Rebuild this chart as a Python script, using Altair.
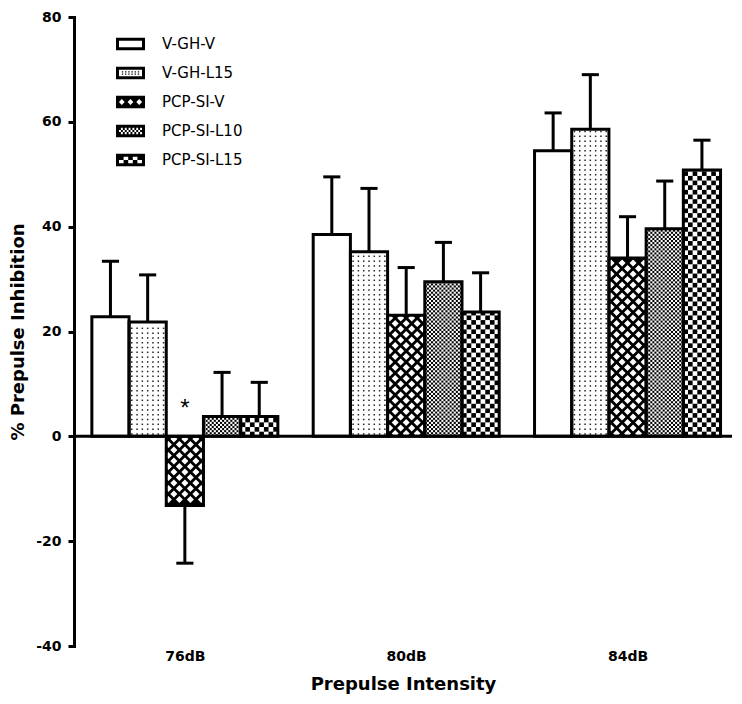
import altair as alt
import pandas as pd

# ---------------- data ----------------
groups = ["76dB", "80dB", "84dB"]
series = ["V-GH-V", "V-GH-L15", "PCP-SI-V", "PCP-SI-L10", "PCP-SI-L15"]

mean_v_gh_v = [22.8, 38.5, 54.5]
mean_v_gh_l15 = [21.8, 35.2, 58.6]
mean_pcp_si_v = [-13.2, 23.1, 34.0]
mean_pcp_si_l10 = [3.8, 29.5, 39.6]
mean_pcp_si_l15 = [3.8, 23.7, 50.8]

sem_v_gh_v = [10.6, 11.0, 7.2]
sem_v_gh_l15 = [9.0, 12.1, 10.4]
sem_pcp_si_v = [11.0, 9.1, 7.9]
sem_pcp_si_l10 = [8.4, 7.5, 9.1]
sem_pcp_si_l15 = [6.5, 7.5, 5.7]

# significance marks (group, series, label)
sig_marks = [("76dB", "PCP-SI-V", "*")]

means = [mean_v_gh_v, mean_v_gh_l15, mean_pcp_si_v, mean_pcp_si_l10, mean_pcp_si_l15]
sems = [sem_v_gh_v, sem_v_gh_l15, sem_pcp_si_v, sem_pcp_si_l10, sem_pcp_si_l15]

rows = []
for gi, g in enumerate(groups):
    for si, s in enumerate(series):
        lab = ""
        for (sg, ss, sl) in sig_marks:
            if sg == g and ss == s:
                lab = sl
        rows.append({"group": g, "series": s, "gi": gi, "si": si,
                     "mean": means[si][gi], "sem": sems[si][gi], "sig": lab})
df = pd.DataFrame(rows)

# ---------------- layout / style constants ----------------
PLOT_W, PLOT_H = 658, 629
BAR_PX = 37.2                 # one bar width in pixels -> x unit = one bar
XMAX = PLOT_W / BAR_PX
OUTER = 0.48                  # space before first group (bar units)
STEP = 5.95                   # group step (5 bars + gap)
PX_PER_UNIT_Y = PLOT_H / 120.0

fill_colors = ["white", "white", "black", "white", "white"]
fill_expr = "[" + ",".join("'%s'" % c for c in fill_colors) + "][datum.si]"

xscale = alt.Scale(domain=[0, XMAX], nice=False, zero=False)
yscale = alt.Scale(domain=[-40, 80], nice=False, zero=False)

centers = [OUTER + i * STEP + 2.5 for i in range(len(groups))]
label_list = "[" + ",".join("'%s'" % g for g in groups) + "]"
xaxis = alt.Axis(values=centers,
                 labelExpr=f"{label_list}[round((datum.value - {centers[0]})/{STEP})]",
                 title="Prepulse Intensity", domain=False, ticks=False, tickSize=0,
                 labelPadding=3, labelFont="DejaVu Sans", labelFontSize=14,
                 labelFontWeight="bold", labelColor="black", labelFlush=False,
                 labelOverlap=False, titleFont="DejaVu Sans", titleFontSize=18,
                 titleFontWeight="bold", titleColor="black", titlePadding=12, grid=False)
yaxis = alt.Axis(values=[-40, -20, 0, 20, 40, 60, 80], labelExpr="'' + datum.value",
                 title="% Prepulse Inhibition",
                 titleFont="DejaVu Sans", titleFontSize=18, titleFontWeight="bold",
                 titleColor="black", titleX=-47, titleY=PLOT_H / 2, titleAngle=270,
                 titleAlign="center", titleBaseline="bottom",
                 labelFont="DejaVu Sans",
                 labelFontSize=14, labelFontWeight="bold", labelColor="black",
                 labelPadding=7, tickSize=6, tickWidth=3, tickColor="black",
                 domainColor="black", domainWidth=3, domainCap="square", grid=False)


def X(f):
    return alt.X(f + ":Q", scale=xscale, axis=xaxis)


def Y(f):
    return alt.Y(f + ":Q", scale=yscale, axis=yaxis)


base = alt.Chart(df).transform_calculate(
    x0=f"{OUTER} + datum.gi*{STEP} + datum.si",
    x1="datum.x0 + 1",
    xc="datum.x0 + 0.5",
    base0="0",
    sgn="datum.mean < 0 ? -1 : 1",
    end="datum.mean + (datum.mean < 0 ? -1 : 1)*datum.sem",
)

# ---------------- legend symbols (custom paths, no holes) ----------------
def rect(x0, y0, x1, y1):
    return f"M{x0:.3f},{y0:.3f}L{x1:.3f},{y0:.3f}L{x1:.3f},{y1:.3f}L{x0:.3f},{y1:.3f}Z"


OX, OY, BW = 1.0, 0.43, 0.207
IX, IY = OX - BW, OY - BW
frame = (rect(-OX, -OY, OX, -IY) + rect(-OX, IY, OX, OY)
         + rect(-OX, -IY, -IX, IY) + rect(IX, -IY, OX, IY))
p1 = frame
p2 = frame
for yy in (-0.08, 0.08):
    for xx in (-0.55, -0.33, -0.11, 0.11, 0.33, 0.55):
        p2 += rect(xx - 0.045, yy - 0.045, xx + 0.045, yy + 0.045)
# cross-hatch: black interior around white diamonds
p3 = frame
dcs = [-0.6, 0.0, 0.6]
for i in range(len(dcs) + 1):
    xa = -IX if i == 0 else dcs[i - 1]
    xb = IX if i == len(dcs) else dcs[i]
    la = xa + (0.2 if i > 0 else 0.0)
    lb = xb - (0.2 if i < len(dcs) else 0.0)
    p3 += (f"M{xa:.3f},{-IY:.3f}L{xb:.3f},{-IY:.3f}L{xb:.3f},{-0.2 if i < len(dcs) else -IY:.3f}"
           f"L{lb:.3f},0L{xb:.3f},{0.2 if i < len(dcs) else IY:.3f}L{xb:.3f},{IY:.3f}"
           f"L{xa:.3f},{IY:.3f}L{xa:.3f},{0.2 if i > 0 else IY:.3f}L{la:.3f},0"
           f"L{xa:.3f},{-0.2 if i > 0 else -IY:.3f}Z")
p4 = frame
nc, nr = 12, 3
cwid, chei = 2 * IX / nc, 2 * IY / nr
for i in range(nc):
    for j in range(nr):
        if (i + j) % 2 == 0:
            p4 += rect(-IX + i * cwid, -IY + j * chei, -IX + (i + 1) * cwid, -IY + (j + 1) * chei)
p5 = frame
nc, nr = 5, 2
cwid, chei = 2 * IX / nc, 2 * IY / nr
for i in range(nc):
    for j in range(nr):
        if (i + j) % 2 == 0:
            p5 += rect(-IX + i * cwid, -IY + j * chei, -IX + (i + 1) * cwid, -IY + (j + 1) * chei)
legend_paths = [p1, p2, p3, p4, p5]

legend_layer = base.mark_point(filled=True, color="black", opacity=0).encode(
    x=X("xc"), y=Y("mean"),
    shape=alt.Shape("series:N", scale=alt.Scale(domain=series, range=legend_paths),
                    legend=alt.Legend(title=None, orient="none", legendX=42, legendY=12.5,
                                      symbolSize=841, symbolStrokeWidth=0, symbolOpacity=1,
                                      symbolFillColor="black", labelFont="DejaVu Sans",
                                      labelFontSize=15, labelColor="black", labelOffset=17,
                                      rowPadding=6, padding=0, labelLimit=300)),
)

# ---------------- bars ----------------
bars_fill = base.transform_calculate(fillcol=fill_expr).mark_rect(strokeWidth=0).encode(
    x=X("x0"), x2="x1:Q", y=Y("base0"), y2="mean:Q",
    fill=alt.Fill("fillcol:N", scale=None),
)

# dotted pattern (V-GH-L15)
DOT_ROW = 4.8 / PX_PER_UNIT_Y
DOT_COL = 5.3 / BAR_PX
dots = base.transform_filter(alt.datum.series == "V-GH-L15").transform_calculate(
    nrow=f"floor((abs(datum.mean) - 0.3)/{DOT_ROW} - 0.5) + 1",
).transform_calculate(
    rr="sequence(0, max(datum.nrow, 0))", kk="sequence(-3, 4)"
).transform_flatten(["rr"]).transform_flatten(["kk"]).transform_calculate(
    px=f"datum.xc + datum.kk*{DOT_COL}",
    py=f"datum.sgn*(datum.rr + 0.5)*{DOT_ROW}",
).mark_square(size=2.25, color="#222222", opacity=1, strokeWidth=0).encode(
    x=X("px"), y=Y("py"))

# cross-hatch pattern (PCP-SI-V): white diamonds on black
DM_ROW = 5.5 / PX_PER_UNIT_Y
DM_COL = 11.0 / BAR_PX
diamonds = base.transform_filter(alt.datum.series == "PCP-SI-V").transform_calculate(
    nrow=f"floor((abs(datum.mean) - 0.4)/{DM_ROW} - 0.5) + 1",
).transform_calculate(
    rr="sequence(0, max(datum.nrow, 0))", kk="sequence(-2, 3)"
).transform_flatten(["rr"]).transform_flatten(["kk"]).transform_calculate(
    off=f"(datum.rr % 2 == 0 ? datum.kk : datum.kk + 0.5)*{DM_COL}",
).transform_filter("abs(datum.off) < 0.46").transform_calculate(
    px="datum.xc + datum.off",
    py=f"datum.sgn*(datum.rr + 0.5)*{DM_ROW}",
).mark_point(shape="diamond", filled=True, color="white", size=49, opacity=1,
             strokeWidth=0).encode(x=X("px"), y=Y("py"))


def checker_layer(name, ncols):
    row_h = (BAR_PX / ncols) / PX_PER_UNIT_Y
    return base.transform_filter(alt.datum.series == name).transform_calculate(
        rr=f"sequence(0, ceil(abs(datum.mean)/{row_h}))", kk=f"sequence(0, {ncols})"
    ).transform_flatten(["rr"]).transform_flatten(["kk"]).transform_filter(
        "(datum.rr + datum.kk) % 2 == 0"
    ).transform_calculate(
        cx0=f"datum.x0 + datum.kk/{ncols}",
        cx1=f"datum.x0 + (datum.kk + 1)/{ncols}",
        cy0=f"datum.sgn*datum.rr*{row_h}",
        cy1=f"datum.sgn*min((datum.rr + 1)*{row_h}, abs(datum.mean))",
    ).mark_rect(color="black", strokeWidth=0).encode(
        x=X("cx0"), x2="cx1:Q", y=Y("cy0"), y2="cy1:Q")


checker_fine = checker_layer("PCP-SI-L10", 18)    # fine checker
checker = checker_layer("PCP-SI-L15", 8)          # coarse checker

bars_outline = base.mark_rect(filled=False, color="black", strokeWidth=3).encode(
    x=X("x0"), x2="x1:Q", y=Y("base0"), y2="mean:Q")

# ---------------- error bars ----------------
err = base.mark_rule(color="black", strokeWidth=3).encode(x=X("xc"), y=Y("mean"), y2="end:Q")
caps = base.transform_calculate(cl="datum.xc - 0.23", cr="datum.xc + 0.23").mark_rule(
    color="black", strokeWidth=3).encode(x=X("cl"), x2="cr:Q", y=Y("end"))

zero = alt.Chart(pd.DataFrame({"z": [0]})).mark_rule(color="black", strokeWidth=3).encode(y=Y("z"))

star = base.transform_filter("datum.sig != ''").mark_text(
    font="Liberation Sans", fontSize=24, color="black", baseline="alphabetic",
    align="center", dy=-20).encode(x=X("xc"), y=Y("base0"), text="sig:N")

chart = alt.layer(
    legend_layer, bars_fill, dots, diamonds, checker_fine, checker, bars_outline,
    err, caps, zero, star
).properties(
    width=PLOT_W, height=PLOT_H,
    autosize=alt.AutoSizeParams(type="none"),
    padding={"left": 66, "top": 9, "right": 0, "bottom": 50},
    background="white",
).configure_view(stroke=None)

chart.save("out.html", embed_options={"renderer": "svg", "actions": False})
